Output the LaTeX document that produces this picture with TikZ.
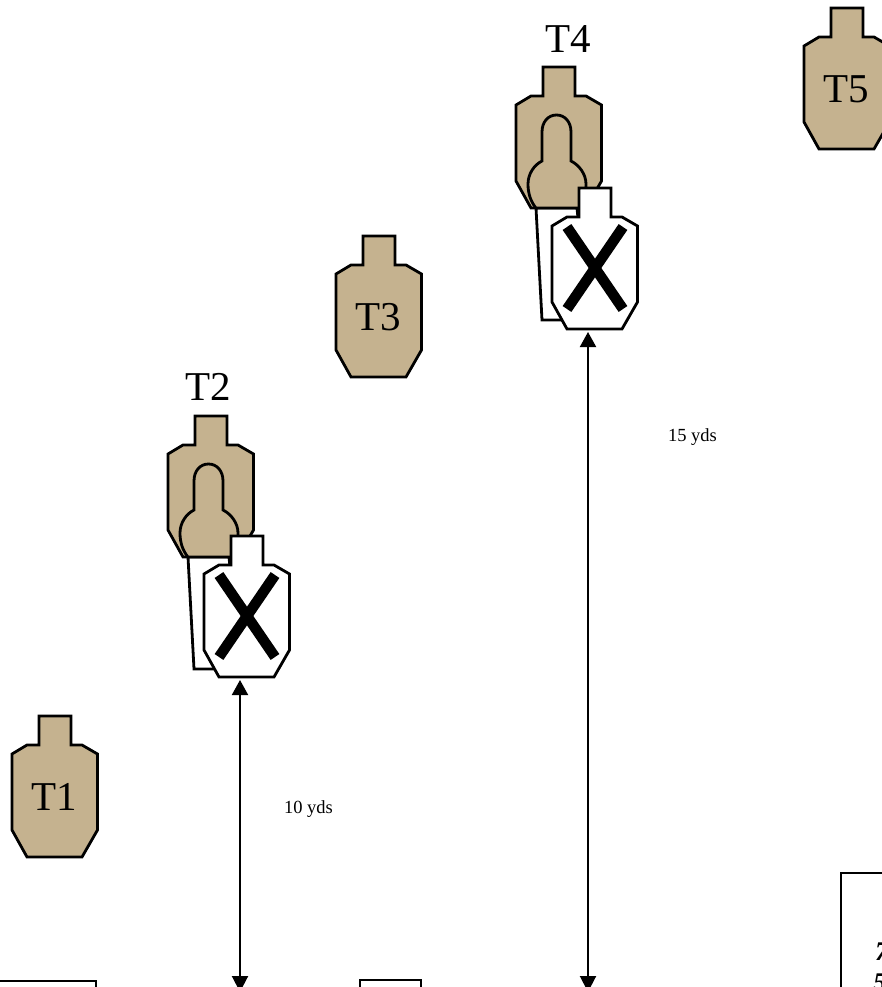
\documentclass[tikz,border=0pt]{standalone}
\usepackage{fontspec}
\setmainfont{Liberation Serif}
\usetikzlibrary{arrows.meta}
\definecolor{tan}{RGB}{197,178,143}
\tikzset{
  every picture/.style={x=1pt,y=-1pt},
  outline/.style={draw=black,line width=2.8pt,line join=miter},
  tantarget/.style={outline,fill=tan},
  whitetarget/.style={outline,fill=white},
  biglabel/.style={font=\fontsize{41}{41}\selectfont,inner sep=0pt,text=black},
  smalllabel/.style={font=\fontsize{18.5}{18.5}\selectfont,inner sep=0pt,text=black},
  cutlabel/.style={font=\fontsize{27}{27}\selectfont\bfseries\itshape,anchor=base west,inner sep=0pt,text=black},
  boxline/.style={draw=black,line width=1.3pt,fill=white},
  crossline/.style={draw=black,line width=10.5pt},
  dist/.style={draw=black,line width=2pt,{Triangle[length=15pt,width=16pt]}-{Triangle[length=16pt,width=16pt]}},
}
\newcommand{\sil}[3]{\path[#3,shift={(#1,#2)}] (0,0) -- (32,0) -- (32,29) -- (43,29) -- (58.5,38) -- (58.5,114) -- (43,141) -- (-12,141) -- (-27,114) -- (-27,38) -- (-12,29) -- (0,29) -- cycle;}
\newcommand{\headshape}[2]{
  \path[outline,fill=white,shift={(#1,#2)}] (-7,141) -- (-1,253) -- (45,253) -- (34,141) -- cycle;
  \path[tantarget,shift={(#1,#2)}] (-1,94) -- (-1,65) .. controls (-1,55) and (5,48) .. (13.5,48) .. controls (22,48) and (28,55) .. (28,65) -- (28,94)
    .. controls (36,98) and (43,107) .. (43,117) .. controls (43,127) and (40,135) .. (36,141) -- (-7,141)
    .. controls (-12,135) and (-15,127) .. (-15,117) .. controls (-15,107) and (-9,98) .. (-1,94) -- cycle;
}
\newcommand{\crossat}[2]{
  \draw[crossline,shift={(#1,#2)}] (-12,39) -- (44,121);
  \draw[crossline,shift={(#1,#2)}] (44,39) -- (-12,121);
}
\begin{document}
\begin{tikzpicture}
\useasboundingbox (0,0) rectangle (882,987);
\clip (0,0) rectangle (882,987);
\fill[white] (0,0) rectangle (882,987);
% boxes at the bottom edge
\path[boxline] (-5,981) rectangle (96,1000);
\path[boxline] (360,980) rectangle (421,1000);
\path[boxline] (841,873) rectangle (890,1000);
\node[cutlabel] (lseven) at (875,960) {7};
\node[cutlabel] (lfive) at (873,991) {5};
% plain targets
\sil{39}{716}{tantarget}
\sil{363}{236}{tantarget}
\sil{831}{8}{tantarget}
% T2 group
\sil{195}{416}{tantarget}
\headshape{195}{416}
\sil{231}{536}{whitetarget}
\crossat{231}{536}
% T4 group
\sil{543}{67}{tantarget}
\headshape{543}{67}
\sil{579}{188}{whitetarget}
\crossat{579}{188}
% labels
\node[biglabel] (t1) at (54,797) {T1};
\node[biglabel] (t2) at (208,387) {T2};
\node[biglabel] (t3) at (378,317) {T3};
\node[biglabel] (t4) at (568,39) {T4};
\node[biglabel] (t5) at (846,89) {T5};
\node[smalllabel] (ten) at (308.5,809) {10 yds};
\node[smalllabel] (fifteen) at (692.5,437) {15 yds};
% distance arrows
\coordinate (a1) at (240,680);
\coordinate (a2) at (240,992);
\coordinate (b1) at (588,332);
\coordinate (b2) at (588,992);
\draw[dist] (a1) -- (a2);
\draw[dist] (b1) -- (b2);
\end{tikzpicture}
\end{document}
